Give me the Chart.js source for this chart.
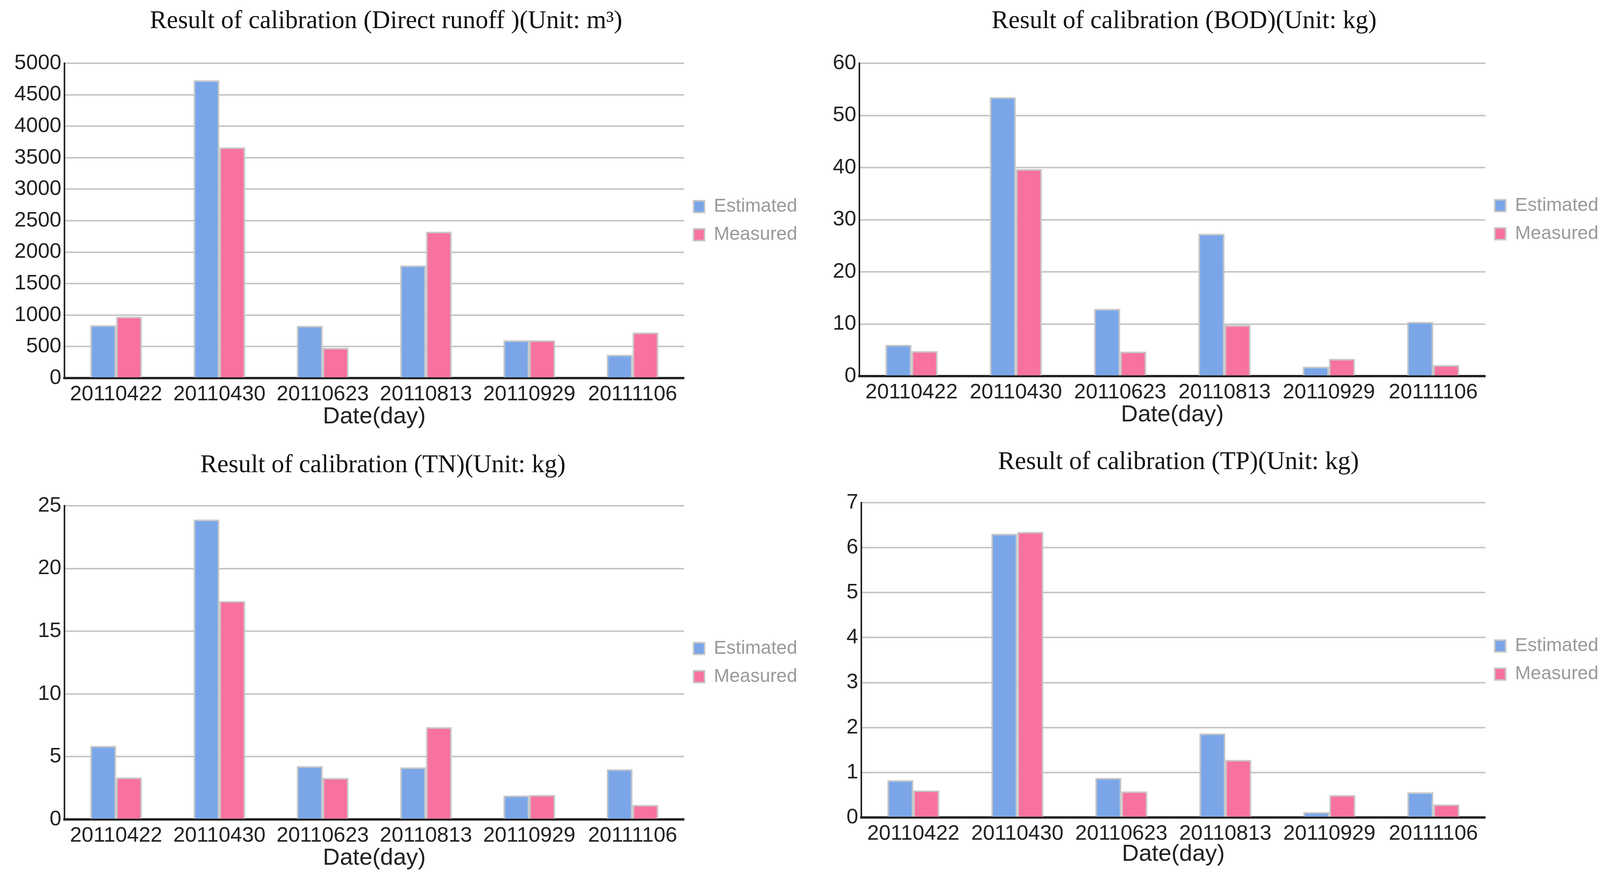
<!DOCTYPE html>
<html>
<head>
<meta charset="utf-8">
<script src="https://cdn.jsdelivr.net/npm/chart.js@4.4.1/dist/chart.umd.min.js"></script>
<style>
  html, body { margin: 0; padding: 0; background: #fff; }
  #wrap { position: relative; width: 4102px; height: 2248px; overflow: hidden; }
  canvas { position: absolute; }
</style>
</head>
<body>
<div id="wrap">
  <canvas id="c1"></canvas>
  <canvas id="c2"></canvas>
  <canvas id="c3"></canvas>
  <canvas id="c4"></canvas>
</div>
<script>
const dates = ["20110422", "20110430", "20110623", "20110813", "20110929", "20111106"];

const runoffEstimated = [840, 4730, 830, 1790, 600, 370];
const runoffMeasured = [975, 3665, 480, 2325, 600, 725];

const bodEstimated = [6.0, 53.5, 12.9, 27.3, 1.8, 10.4];
const bodMeasured = [4.8, 39.7, 4.7, 9.8, 3.3, 2.1];

const tnEstimated = [5.85, 23.9, 4.25, 4.15, 1.9, 4.0];
const tnMeasured = [3.35, 17.4, 3.3, 7.35, 1.95, 1.15];

const tpEstimated = [0.83, 6.31, 0.88, 1.87, 0.12, 0.56];
const tpMeasured = [0.6, 6.35, 0.58, 1.28, 0.5, 0.29];

const runoffTicks = { max: 5000, step: 500 };
const bodTicks = { max: 60, step: 10 };
const tnTicks = { max: 25, step: 5 };
const tpTicks = { max: 7, step: 1 };

const blue = "#7aa6e8";
const pink = "#f7729e";
const edge = "#c6c6c6";

// title drawn centred over the plot; legend re-centred on the plot area
const titlePlugin = {
  id: "topTitle",
  afterLayout(chart) {
    const lg = chart.legend;
    const a = chart.chartArea;
    if (!lg) return;
    const shift = (lg.top + lg.bottom) / 2 - (a.top + a.bottom) / 2;
    lg.top -= shift;
    lg.bottom -= shift;
  },
  afterDraw(chart, args, opts) {
    const c = chart.ctx;
    const a = chart.chartArea;
    c.save();
    c.font = opts.size + "px 'Liberation Serif', 'Times New Roman', serif";
    c.fillStyle = "#111";
    c.textAlign = "center";
    c.textBaseline = "middle";
    c.fillText(opts.text, (a.left + a.right) / 2 + opts.dx, opts.y);
    c.restore();
  },
};

function makeChart(id, pos, title, est, meas, ticks) {
  const el = document.getElementById(id);
  el.width = pos.w;
  el.height = pos.h;
  el.style.left = pos.x + "px";
  el.style.top = pos.y + "px";
  el.style.width = pos.w + "px";
  el.style.height = pos.h + "px";

  new Chart(el, {
    type: "bar",
    plugins: [titlePlugin],
    data: {
      labels: dates,
      datasets: [
        {
          label: "Estimated",
          data: est,
          backgroundColor: blue,
          borderColor: edge,
          borderWidth: 4,
          categoryPercentage: 0.5,
          barPercentage: 1.0,
        },
        {
          label: "Measured",
          data: meas,
          backgroundColor: pink,
          borderColor: edge,
          borderWidth: 4,
          categoryPercentage: 0.5,
          barPercentage: 1.0,
        },
      ],
    },
    options: {
      responsive: false,
      animation: false,
      devicePixelRatio: 1,
      layout: { padding: { top: pos.top, right: 0, bottom: 0, left: 0 } },
      plugins: {
        topTitle: { text: title, size: 65, y: pos.titleY, dx: pos.titleDx },
        tooltip: { enabled: false },
        legend: {
          position: "right",
          labels: {
            boxWidth: 28,
            boxHeight: 30,
            padding: 24,
            color: "#9a9a9a",
            font: { family: "'Liberation Sans', Arial, sans-serif", size: 48 },
          },
        },
      },
      scales: {
        x: {
          z: 1,
          afterFit(scale) { scale.height = pos.xh; },
          grid: { display: false, drawTicks: false },
          border: { color: "#222", width: 6 },
          ticks: {
            color: "#222",
            padding: 15,
            maxRotation: 0,
            font: { family: "'Liberation Sans', Arial, sans-serif", size: 54, lineHeight: 1 },
          },
          title: {
            display: true,
            text: "Date(day)",
            color: "#222",
            padding: { top: 0, bottom: pos.tb },
            font: { family: "'Liberation Sans', Arial, sans-serif", size: 60, lineHeight: 1 },
          },
        },
        y: {
          min: 0,
          max: ticks.max,
          afterFit(scale) { scale.width = pos.left; },
          grid: { color: edge, lineWidth: 4, drawTicks: false },
          border: { color: "#222", width: 4 },
          ticks: {
            stepSize: ticks.step,
            color: "#222",
            padding: 8,
            font: { family: "'Liberation Sans', Arial, sans-serif", size: 54 },
            callback: (v) => String(v),
          },
        },
      },
    },
  });
}

makeChart("c1", { x: 0, y: 0, w: 2051, h: 1124, left: 165, top: 162, xh: 156, tb: 27, titleY: 55, titleDx: 30 },
  "Result of calibration (Direct runoff )(Unit: m\u00b3)", runoffEstimated, runoffMeasured, runoffTicks);
makeChart("c2", { x: 2051, y: 0, w: 2051, h: 1124, left: 149, top: 162, xh: 161, tb: 32, titleY: 55, titleDx: 30 },
  "Result of calibration (BOD)(Unit: kg)", bodEstimated, bodMeasured, bodTicks);
makeChart("c3", { x: 0, y: 1124, w: 2051, h: 1124, left: 165, top: 171, xh: 150, tb: 21, titleY: 68, titleDx: 22 },
  "Result of calibration (TN)(Unit: kg)", tnEstimated, tnMeasured, tnTicks);
makeChart("c4", { x: 2051, y: 1124, w: 2051, h: 1124, left: 154, top: 163, xh: 155, tb: 31, titleY: 60, titleDx: 13 },
  "Result of calibration (TP)(Unit: kg)", tpEstimated, tpMeasured, tpTicks);
</script>
</body>
</html>
